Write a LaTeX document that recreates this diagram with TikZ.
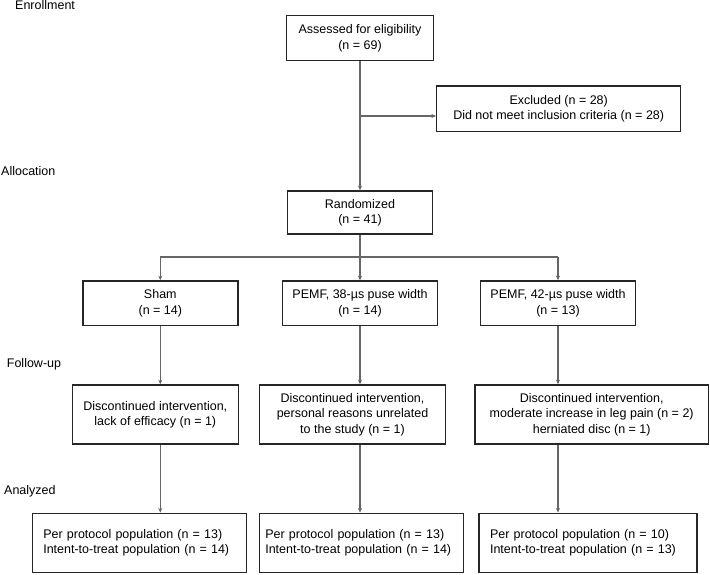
\documentclass[tikz,border=0pt]{standalone}
\usepackage{fontspec}
\setmainfont{Liberation Sans}
\usetikzlibrary{arrows.meta}
\begin{document}
\begin{tikzpicture}[x=1pt,y=-1pt,
  txt/.style={font=\fontsize{12.5}{15.3}\selectfont},
  box/.style={txt, draw=black!85, line width=1.5pt, align=center, inner sep=0pt},
  abox/.style={txt, draw=black!85, line width=1.5pt, align=left, inner xsep=11pt, inner ysep=0pt, text width=#1},
  conn/.style={draw=black!60, line width=1.1pt},
  arr/.style={conn, -{Stealth[length=4.5pt,width=4pt]}},
  stage/.style={txt, anchor=west, inner sep=0pt}]
\useasboundingbox (0,0) rectangle (710,575);

% stage labels
\node[stage] (lenr) at (15,5) {Enrollment};
\node[stage] (lall) at (1,170.7) {Allocation};
\node[stage] (lfol) at (6.7,364.3) {Follow-up};
\node[stage] (lana) at (4,491.7) {Analyzed};

% boxes
\node[box, minimum width=146.7pt, minimum height=45pt] (assess) at (360,38.2) {Assessed for eligibility\\(n = 69)};
\node[box, minimum width=244pt, minimum height=45.7pt] (excl) at (558.7,108.9) {Excluded (n = 28)\\Did not meet inclusion criteria (n = 28)};
\node[box, minimum width=145.4pt, minimum height=43pt] (rand) at (360,212.5) {Randomized\\(n = 41)};

\node[box, minimum width=155pt, minimum height=44.7pt] (sham) at (160.3,303.3) {Sham\\(n = 14)};
\node[box, minimum width=155pt, minimum height=44.7pt] (p38) at (360,303.3) {PEMF, 38-µs puse width\\(n = 14)};
\node[box, minimum width=155pt, minimum height=44.7pt] (p42) at (558,303.3) {PEMF, 42-µs puse width\\(n = 13)};

\node[box, minimum width=166pt, minimum height=59pt] (d1) at (155.3,414.5) {Discontinued intervention,\\lack of efficacy (n = 1)};
\node[box, minimum width=186.4pt, minimum height=59pt] (d2) at (352.5,414.5) {Discontinued intervention,\\personal reasons unrelated\\to the study (n = 1)};
\node[box, minimum width=233.3pt, minimum height=59pt] (d3) at (591.7,414.5) {Discontinued intervention,\\moderate increase in leg pain (n = 2)\\herniated disc (n = 1)};

\node[abox=192.4pt, minimum height=59.4pt] (a1) at (139.5,543) {Per protocol population (n = 13)\\Intent-to-treat population (n = 14)};
\node[abox=192pt, inner xsep=6pt, minimum height=59.4pt] (a2) at (361.3,543) {Per protocol population (n = 13)\\Intent-to-treat population (n = 14)};
\node[abox=195.7pt, inner xsep=11pt, minimum height=59.4pt] (a3) at (587.9,543) {Per protocol population (n = 10)\\Intent-to-treat population (n = 13)};

% connectors
\draw[arr] (assess.south) -- (rand.north);
\coordinate (ex) at (360,116);
\draw[arr] (ex) -- (ex -| excl.west);

\coordinate (split) at (360,257);
\draw[conn] (rand.south) -- (split);
\draw[conn] (sham.north |- split) -- (p42.north |- split);
\draw[arr] (sham.north |- split) -- (sham.north);
\draw[arr] (split) -- (p38.north);
\draw[arr] (p42.north |- split) -- (p42.north);

\draw[arr] (sham.south) -- (sham.south |- d1.north);
\draw[arr] (p38.south) -- (p38.south |- d2.north);
\draw[arr] (p42.south) -- (p42.south |- d3.north);

\draw[arr] (sham.south |- d1.south) -- (sham.south |- a1.north);
\draw[arr] (p38.south |- d2.south) -- (p38.south |- a2.north);
\draw[arr] (p42.south |- d3.south) -- (p42.south |- a3.north);
\end{tikzpicture}
\end{document}
